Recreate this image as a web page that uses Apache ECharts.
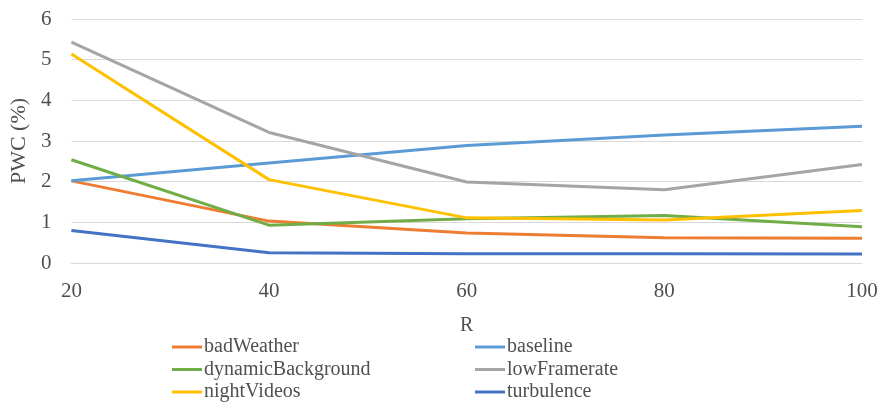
<!DOCTYPE html>
<html><head><meta charset="utf-8">
<script src="https://cdn.jsdelivr.net/npm/echarts@6/dist/echarts.min.js"></script>
<style>html,body{margin:0;padding:0;background:#fff}#c{width:882px;height:405px}</style>
</head><body><div id="c"></div>
<script>
var categories = ['20', '40', '60', '80', '100'];
var yTicks = [0, 1, 2, 3, 4, 5, 6];
var badWeather = [2.02, 1.03, 0.74, 0.62, 0.61];
var baseline = [2.02, 2.46, 2.89, 3.15, 3.36];
var dynamicBackground = [2.54, 0.93, 1.09, 1.17, 0.89];
var lowFramerate = [5.43, 3.21, 1.99, 1.80, 2.42];
var nightVideos = [5.14, 2.05, 1.11, 1.06, 1.29];
var turbulence = [0.80, 0.25, 0.23, 0.23, 0.22];

var names = ['badWeather', 'baseline', 'dynamicBackground', 'lowFramerate', 'nightVideos', 'turbulence'];
var datas = [badWeather, baseline, dynamicBackground, lowFramerate, nightVideos, turbulence];
var colors = ['#ED7D31', '#5B9BD5', '#70AD47', '#A5A5A5', '#FFC000', '#4472C4'];
var font = '"Liberation Serif", "DejaVu Serif", serif';
var txt = '#505050';

var chart = echarts.init(document.getElementById('c'), null, {renderer: 'canvas'});
function legendAt(left, data) {
  return {
    orient: 'vertical', top: 337, left: left, height: 120, padding: 0, data: data,
    icon: 'rect', itemWidth: 30, itemHeight: 3, itemGap: 2.5,
    textStyle: {fontFamily: font, fontSize: 20, color: txt, lineHeight: 20, padding: [0, 0, 0, -3]},
    selectedMode: false
  };
}
chart.setOption({
  animation: false,
  color: colors,
  grid: {left: 70, right: 20, top: 19, bottom: 142},
  legend: [
    legendAt(172, ['badWeather', 'dynamicBackground', 'nightVideos']),
    legendAt(475, ['baseline', 'lowFramerate', 'turbulence'])
  ],
  xAxis: {
    type: 'category', data: categories, boundaryGap: false,
    name: 'R', nameLocation: 'middle', nameGap: 53,
    nameTextStyle: {fontFamily: font, fontSize: 20, color: txt},
    axisLine: {show: true, lineStyle: {color: '#d9d9d9', width: 1}},
    axisTick: {show: false},
    axisLabel: {fontFamily: font, fontSize: 21, color: txt, margin: 18},
    splitLine: {show: false}
  },
  yAxis: {
    type: 'value', min: yTicks[0], max: yTicks[yTicks.length - 1], interval: 1,
    name: 'PWC (%)', nameLocation: 'middle', nameGap: 40, nameRotate: 90,
    nameTextStyle: {fontFamily: font, fontSize: 22, color: txt},
    axisLine: {show: false}, axisTick: {show: false},
    axisLabel: {fontFamily: font, fontSize: 21, color: txt, margin: 20},
    splitLine: {lineStyle: {color: '#d9d9d9', width: 1}}
  },
  series: names.map(function (n, i) {
    return {
      name: n, type: 'line', data: datas[i], showSymbol: false, symbol: 'none',
      lineStyle: {width: 3, color: colors[i]}, itemStyle: {color: colors[i]}
    };
  })
});
</script></body></html>
